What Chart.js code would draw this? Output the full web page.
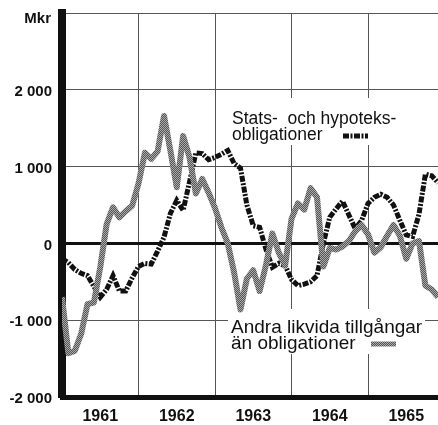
<!DOCTYPE html>
<html>
<head>
<meta charset="utf-8">
<script src="https://cdn.jsdelivr.net/npm/chart.js@4.4.1/dist/chart.umd.min.js"></script>
<style>
  html, body { margin: 0; padding: 0; background: #fff; }
  #wrap { width: 438px; height: 425px; }
</style>
</head>
<body>
<div id="wrap"><canvas id="chart" width="438" height="425"></canvas></div>
<script>
  // Data (Mkr), monthly from Jan 1961
  const startYear = 1961;
  const yearTicks = [1961, 1962, 1963, 1964, 1965];
  const yearLabelTicks = [1961.5, 1962.5, 1963.5, 1964.5, 1965.5];
  const yTicks = [-2000, -1000, 0, 1000, 2000, 3000];

  // Stats- och hypoteksobligationer
  const stats = [
    -200, -250, -340, -390, -420, -560, -700, -600, -420, -620, -620, -450,
    -300, -260, -270, -100, 80, 390, 560, 430, 800, 1180, 1170, 1090,
    1120, 1160, 1210, 1040, 980, 500, 230, 210, -80, -310, -260, -290,
    -470, -550, -530, -500, -420, 0, 340, 450, 550, 370, 190, 300,
    520, 600, 640, 600, 500, 300, 110, 90, 380, 900, 880, 790
  ];

  // Andra likvida tillgångar än obligationer
  const andra = [
    -700, -1430, -1400, -1180, -790, -770, -310, 250, 470, 340, 420, 490,
    780, 1180, 1100, 1200, 1660, 1210, 730, 1400, 1120, 650, 840, 660,
    460, 210, 0, -380, -860, -460, -350, -620, -280, 130, -120, -290,
    320, 520, 440, 720, 600, -300, -60, -80, -40, 30, 160, 240,
    120, -120, -50, 100, 240, 100, -200, 0, 30, -550, -600, -700
  ];

  const toPoints = (arr) => arr.map((v, i) => ({ x: startYear + i / 12, y: v }));

  // fine grey texture for the thick line
  function hatch() {
    const p = document.createElement("canvas");
    p.width = 2; p.height = 2;
    const g = p.getContext("2d");
    g.fillStyle = "#555";
    g.fillRect(0, 0, 2, 2);
    g.fillStyle = "#aaa";
    g.fillRect(0, 0, 1, 1);
    g.fillRect(1, 1, 1, 1);
    return g.createPattern(p, "repeat");
  }
  const grey = hatch();
  const dash = [6, 1.5, 2, 1.5];

  const fontMain = "'Liberation Sans', Arial, sans-serif";

  const notes = {
    id: "notes",
    beforeDatasetsDraw(chart) {
      const c = chart.ctx;
      c.save();
      c.fillStyle = "#fff";
      c.fillRect(229, 98, 176, 47);
      c.fillRect(228, 309, 197, 45);

      c.fillStyle = "#111";
      c.textAlign = "left";
      c.textBaseline = "alphabetic";
      c.font = "17.5px " + fontMain;
      c.fillText("Stats-  och hypoteks-", 232, 124);
      c.fillText("obligationer", 232, 140);
      c.font = "19px " + fontMain;
      c.fillText("Andra likvida tillgångar", 231, 333);
      c.fillText("än obligationer", 231, 349);

      c.lineCap = "butt";
      c.strokeStyle = "#111";
      c.lineWidth = 5;
      c.setLineDash(dash);
      c.beginPath(); c.moveTo(343, 136); c.lineTo(368, 136); c.stroke();
      c.setLineDash([]);
      c.strokeStyle = grey;
      c.lineWidth = 5;
      c.beginPath(); c.moveTo(371, 344); c.lineTo(396, 344); c.stroke();
      c.restore();
    },
    afterDraw(chart) {
      const c = chart.ctx;
      c.save();
      c.fillStyle = "#111";
      c.font = "bold 15px " + fontMain;
      c.textAlign = "right";
      c.textBaseline = "alphabetic";
      c.fillText("Mkr", 51, 23);
      c.restore();
    }
  };

  const fmt = (v) => {
    const s = String(Math.abs(v)).replace(/\B(?=(\d{3})+(?!\d))/g, " ");
    return (v < 0 ? "-" : "") + s;
  };

  new Chart(document.getElementById("chart"), {
    type: "line",
    data: {
      datasets: [
        {
          label: "Andra likvida tillgångar än obligationer",
          data: toPoints(andra),
          borderColor: grey,
          borderWidth: 6,
          pointRadius: 0,
          tension: 0,
          borderJoinStyle: "round"
        },
        {
          label: "Stats- och hypoteksobligationer",
          data: toPoints(stats),
          borderColor: "#111",
          borderWidth: 5,
          borderDash: dash,
          pointRadius: 0,
          tension: 0
        }
      ]
    },
    options: {
      responsive: false,
      devicePixelRatio: 1,
      animation: false,
      layout: { padding: { top: 13, right: 0, left: 0, bottom: 0 } },
      plugins: { legend: { display: false }, tooltip: { enabled: false } },
      scales: {
        x: {
          type: "linear",
          min: 1961,
          max: 1965.915,
          weight: 0,
          afterBuildTicks: (s) => { s.ticks = yearTicks.map((v) => ({ value: v })); },
          afterFit: (s) => { s.height = 0; s.paddingLeft = 0; s.paddingRight = 0; },
          ticks: { display: false },
          grid: { color: "#555", lineWidth: 1, drawTicks: false },
          border: { display: true, color: "#111", width: 5 }
        },
        x2: {
          type: "linear",
          position: "bottom",
          min: 1961,
          max: 1965.915,
          weight: 1,
          afterBuildTicks: (s) => { s.ticks = yearLabelTicks.map((v) => ({ value: v })); },
          afterFit: (s) => { s.height = 28; s.paddingLeft = 0; s.paddingRight = 0; },
          grid: { display: false, drawTicks: false },
          border: { display: false },
          ticks: {
            padding: 10,
            color: "#111",
            font: { family: fontMain, size: 16, weight: "bold" },
            callback: (v) => String(Math.floor(v))
          }
        },
        y: {
          min: -2000,
          max: 3000,
          afterBuildTicks: (s) => { s.ticks = yTicks.map((v) => ({ value: v })); },
          afterFit: (s) => { s.width = 62; s.paddingTop = 0; s.paddingBottom = 0; },
          ticks: {
            padding: 10,
            labelOffset: 2,
            color: "#111",
            font: { family: fontMain, size: 15, weight: "bold" },
            callback: (v) => (v === 3000 ? "" : fmt(v))
          },
          grid: {
            drawTicks: false,
            color: (ctx) => (ctx.tick && ctx.tick.value === 0 ? "#111" : "#555"),
            lineWidth: (ctx) => (ctx.tick && ctx.tick.value === 0 ? 3 : 1)
          },
          border: { display: true, color: "#111", width: 8 }
        }
      }
    },
    plugins: [notes]
  });
</script>
</body>
</html>
